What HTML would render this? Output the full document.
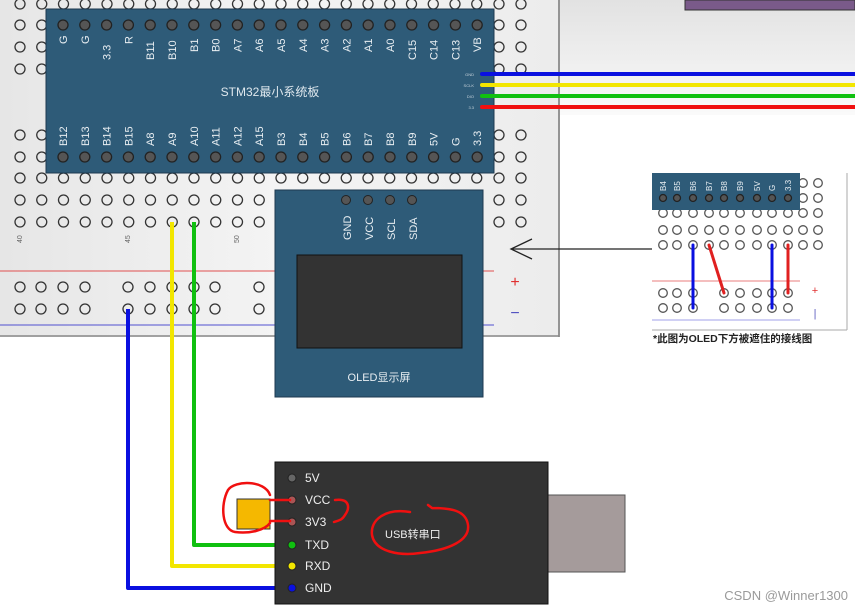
<!DOCTYPE html>
<html><head><meta charset="utf-8"><style>
html,body{margin:0;padding:0;background:#fff;}
svg{display:block;font-family:"Liberation Sans","Noto Sans CJK SC",sans-serif;}
</style></head><body>
<svg width="855" height="610" viewBox="0 0 855 610" xmlns="http://www.w3.org/2000/svg">
<defs>
<linearGradient id="bg" x1="0" y1="0" x2="0" y2="1"><stop offset="0" stop-color="#e2e2e2"/><stop offset="1" stop-color="#fafafa"/></linearGradient>
<linearGradient id="bb" x1="0" y1="0" x2="1" y2="0"><stop offset="0" stop-color="#e6e6e6"/><stop offset="0.5" stop-color="#f4f4f4"/><stop offset="1" stop-color="#ececec"/></linearGradient>
</defs>
<rect x="560" y="0" width="295" height="115" fill="url(#bg)"/>
<rect x="685" y="0" width="170" height="10" fill="#7a5a8a" stroke="#333" stroke-width="1"/>
<rect x="0" y="0" width="560" height="337" fill="url(#bb)"/>
<line x1="559" y1="0" x2="559" y2="337" stroke="#777" stroke-width="1.5"/>
<line x1="0" y1="336" x2="559" y2="336" stroke="#888" stroke-width="1.5"/>
<g id="holes"></g>
<line x1="0" y1="271" x2="494" y2="271" stroke="#e05050" stroke-width="1"/>
<line x1="0" y1="325" x2="494" y2="325" stroke="#5050d0" stroke-width="1"/>
<text x="515" y="287" fill="#e03030" font-size="16" text-anchor="middle">+</text>
<text x="515" y="318" fill="#5050c0" font-size="16" text-anchor="middle">−</text>
<g font-size="7" fill="#666">
<text transform="translate(22,243) rotate(-90)">40</text>
<text transform="translate(130,243) rotate(-90)">45</text>
<text transform="translate(239,243) rotate(-90)">50</text>
</g>
<rect x="46" y="9" width="448" height="164" fill="#2e5b78" stroke="#1e3a50"/>
<g id="stm"></g>
<text x="270" y="96" fill="#dfe8ee" font-size="12" text-anchor="middle">STM32最小系统板</text>
<g font-size="4" fill="#c8d4dc" text-anchor="end"><text x="474" y="76">GND</text><text x="474" y="87">SCLK</text><text x="474" y="98">DIO</text><text x="474" y="109">3.3</text></g>
<g stroke-width="4" stroke-linecap="round">
<line x1="482" y1="74" x2="855" y2="74" stroke="#0a10e0"/>
<line x1="482" y1="85" x2="855" y2="85" stroke="#f2e600"/>
<line x1="482" y1="96" x2="855" y2="96" stroke="#10c010"/>
<line x1="482" y1="107" x2="855" y2="107" stroke="#f01010"/>
</g>
<rect x="275" y="190" width="208" height="207" fill="#2e5b78" stroke="#1e3a50"/>
<g fill="#555" stroke="#222"><circle cx="346" cy="200" r="4.5"/><circle cx="368" cy="200" r="4.5"/><circle cx="390" cy="200" r="4.5"/><circle cx="412" cy="200" r="4.5"/></g>
<g font-size="11" fill="#e8eef2">
<text transform="translate(351,240) rotate(-90)">GND</text>
<text transform="translate(373,240) rotate(-90)">VCC</text>
<text transform="translate(395,240) rotate(-90)">SCL</text>
<text transform="translate(417,240) rotate(-90)">SDA</text>
</g>
<rect x="297" y="255" width="165" height="93" fill="#333" stroke="#111"/>
<text x="379" y="381" fill="#e8eef2" font-size="11" text-anchor="middle">OLED显示屏</text>
<g fill="none" stroke-width="4" stroke-linejoin="round">
<polyline points="172,222 172,566 292,566" stroke="#f2e600"/>
<polyline points="194,222 194,545 292,545" stroke="#10c010"/>
<polyline points="128,309 128,588 292,588" stroke="#0a10e0"/>
</g>
<line x1="652" y1="249" x2="512" y2="249" stroke="#222" stroke-width="1.3"/>
<polyline points="532,239 511,249 532,259" fill="none" stroke="#222" stroke-width="1.3"/>
<rect x="652" y="173" width="195" height="157" fill="#fff"/>
<line x1="847" y1="173" x2="847" y2="330" stroke="#aaa"/><line x1="652" y1="330" x2="847" y2="330" stroke="#aaa"/>
<g id="inset"></g>
<rect x="652" y="173" width="148" height="37" fill="#2e5b78"/>
<g id="insetpins"></g>
<line x1="652" y1="281" x2="800" y2="281" stroke="#e05050" stroke-width="0.8"/>
<line x1="652" y1="320" x2="800" y2="320" stroke="#8080e0" stroke-width="0.8"/>
<text x="815" y="294" fill="#e03030" font-size="11" text-anchor="middle">+</text>
<text x="815" y="317" fill="#6060c0" font-size="11" text-anchor="middle">|</text>
<g stroke-width="3" stroke-linecap="round">
<line x1="693" y1="245" x2="693" y2="308" stroke="#0a10e0"/>
<line x1="709" y1="245" x2="724" y2="293" stroke="#e02020"/>
<line x1="772" y1="245" x2="772" y2="308" stroke="#0a10e0"/>
<line x1="788" y1="245" x2="788" y2="293" stroke="#e02020"/>
</g>
<text x="653" y="342" font-size="10.5" font-weight="bold" fill="#222">*此图为OLED下方被遮住的接线图</text>
<rect x="548" y="495" width="77" height="77" fill="#a59b9b" stroke="#555"/>
<rect x="275" y="462" width="273" height="142" fill="#333" stroke="#111"/>
<g font-size="12" fill="#eee">
<text x="305" y="482">5V</text><text x="305" y="504">VCC</text><text x="305" y="526">3V3</text>
<text x="305" y="549">TXD</text><text x="305" y="570">RXD</text><text x="305" y="592">GND</text>
</g>
<g stroke="#222"><circle cx="292" cy="478" r="4" fill="#666"/><circle cx="292" cy="500" r="4" fill="#a55"/><circle cx="292" cy="522" r="4" fill="#a55"/>
<circle cx="292" cy="545" r="4" fill="#10c010"/><circle cx="292" cy="566" r="4" fill="#f2e600"/><circle cx="292" cy="588" r="4" fill="#0a10e0"/></g>
<text x="385" y="538" font-size="11" fill="#eee">USB转串口</text>
<rect x="237" y="499" width="33" height="30" fill="#f5b800" stroke="#333"/>
<g fill="none" stroke="#f01010" stroke-width="2.5" stroke-linecap="round">
<path d="M270,500 L290,500 M270,521 L290,521"/>
<path d="M270,495 C265,480 235,480 228,490 C220,505 222,530 235,532 C250,534 265,530 270,523"/>
<path d="M335,500 C350,498 350,508 345,515 C342,520 340,520 334,522"/>
<path d="M410,512 C385,508 370,520 372,535 C375,552 400,556 420,553 C450,550 470,540 468,525 C466,510 450,508 432,508 M432,508 L428,505"/>
</g>
<text x="848" y="600" font-size="13" fill="#9a9a9a" text-anchor="end">CSDN @Winner1300</text>
<script>
(function(){
var ns="http://www.w3.org/2000/svg";
function c(p,x,y,r,f,s){var e=document.createElementNS(ns,"circle");e.setAttribute("cx",x);e.setAttribute("cy",y);e.setAttribute("r",r);e.setAttribute("fill",f);e.setAttribute("stroke",s);e.setAttribute("stroke-width","1.3");p.appendChild(e);}
function t(p,x,y,s,sz,f){var e=document.createElementNS(ns,"text");e.setAttribute("transform","translate("+x+","+y+") rotate(-90)");e.setAttribute("font-size",sz);e.setAttribute("fill",f);e.textContent=s;p.appendChild(e);}
var h=document.getElementById("holes");
var rows=[4,25,47,69,135,157,178,200,222];
for(var i=0;i<24;i++){var x=20+21.75*i;
 rows.forEach(function(y){if(x>490)return; if(y>=200&&x>265)return; c(h,x,y,5,"none","#333");});}
[499,521].forEach(function(x){rows.forEach(function(y){c(h,x,y,5,"none","#333");});});
[20,41,63,85,128,150,172,194,215,259].forEach(function(x){[287,309].forEach(function(y){c(h,x,y,5,"none","#333");});});
var s=document.getElementById("stm");
var top=["G","G","3.3","R","B11","B10","B1","B0","A7","A6","A5","A4","A3","A2","A1","A0","C15","C14","C13","VB"];
var bot=["B12","B13","B14","B15","A8","A9","A10","A11","A12","A15","B3","B4","B5","B6","B7","B8","B9","5V","G","3.3"];
for(var i=0;i<20;i++){var x=63+21.8*i;c(s,x,25,5,"#555","#222");c(s,x,157,5,"#555","#222");
 t(s,x+4,36+(top[i].length*8),top[i],11,"#e8eef2");
 t(s,x+4,146,bot[i],11,"#e8eef2");}
var ins=document.getElementById("inset");
var ix=[663,677,693,709,724,740,757,772,788,803,818];
ix.forEach(function(x){[183,198,213,230,245].forEach(function(y){c(ins,x,y,4.3,"#fff","#555");});});
[663,677,693,724,740,757,772,788].forEach(function(x){[293,308].forEach(function(y){c(ins,x,y,4.3,"#fff","#555");});});
var ip=document.getElementById("insetpins");
var il=["B4","B5","B6","B7","B8","B9","5V","G","3.3"];
for(var i=0;i<9;i++){c(ip,ix[i],198,3.5,"#555","#222");t(ip,ix[i]+3,191,il[i],8,"#e8eef2");}
})();
</script>
</svg>
</body></html>
